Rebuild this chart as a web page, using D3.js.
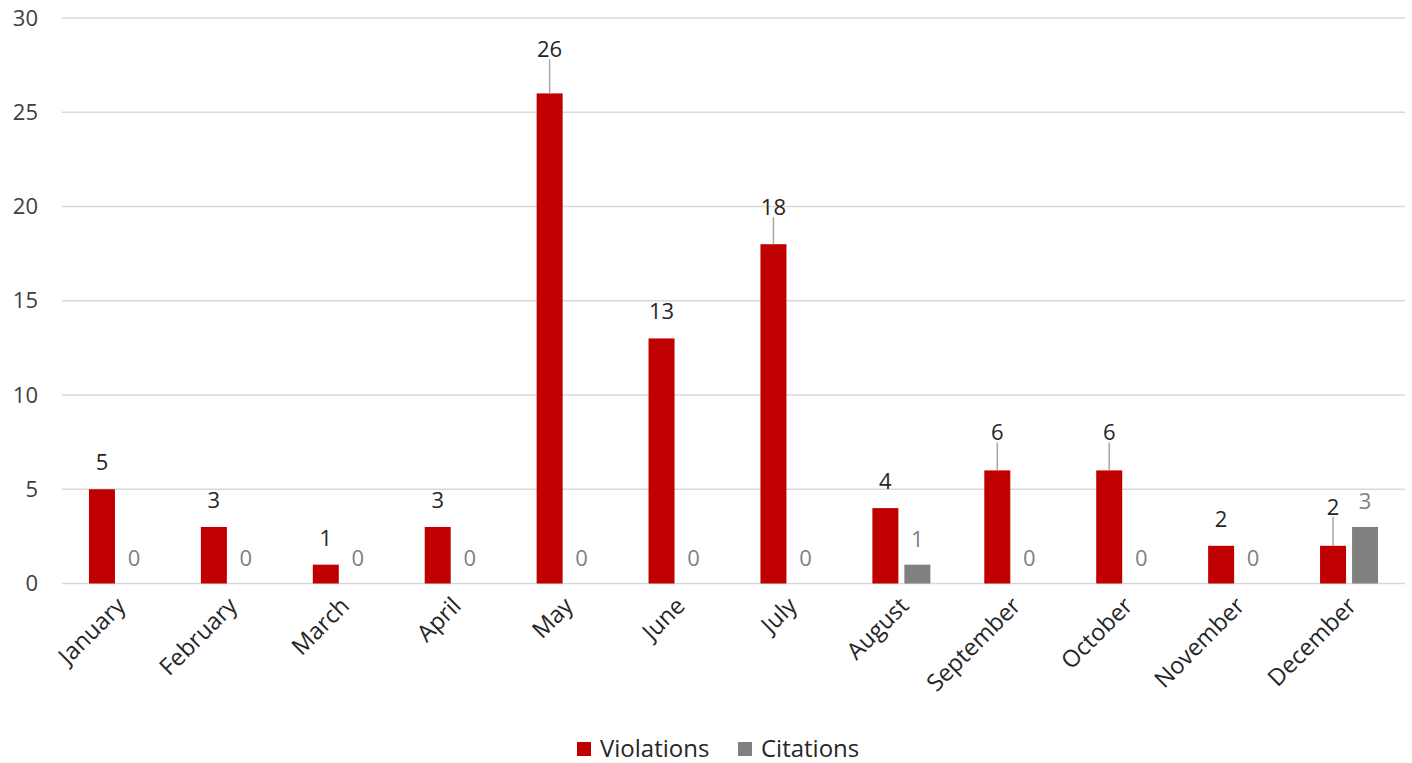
<!DOCTYPE html>
<html lang="en">
<head>
  <meta charset="UTF-8">
  <title>Violations and Citations by Month</title>
  <script src="https://d3js.org/d3.v7.min.js"></script>
  <style>
    body { margin: 0; background: #fff; }
    svg { display: block; font-family: "Open Sans", sans-serif; }
  </style>
</head>
<body>
  <svg width="1412" height="763"></svg>
  <script>
    // data
    const months = ["January", "February", "March", "April", "May", "June",
                    "July", "August", "September", "October", "November", "December"];
    const violations = [5, 3, 1, 3, 26, 13, 18, 4, 6, 6, 2, 2];
    const citations = [0, 0, 0, 0, 0, 0, 0, 1, 0, 0, 0, 3];
    const yTicks = [0, 5, 10, 15, 20, 25, 30];

    // labels that were dragged up in the original, with a leader line (px)
    const leaderLift = { May: 17, July: 10, September: 11, October: 11, December: 12 };

    const red = "#c00000", gray = "#808080";

    const svg = d3.select("svg");
    const plotLeft = 62, plotRight = 1405, plotTop = 18, plotBottom = 583.5;

    const x = d3.scaleBand().domain(months).range([plotLeft, plotRight]);
    const y = d3.scaleLinear().domain([0, 30]).range([plotBottom, plotTop]);

    const barW = 26, gap = 6;

    // gridlines
    svg.append("g").selectAll("line")
      .data(yTicks)
      .join("line")
      .attr("x1", plotLeft).attr("x2", plotRight)
      .attr("y1", d => y(d)).attr("y2", d => y(d))
      .attr("stroke", "#d9d9d9")
      .attr("stroke-width", 1.5);

    // y axis labels
    const yAxis = d3.axisLeft(y).tickValues(yTicks).tickSize(0).tickPadding(0);
    svg.append("g")
      .attr("transform", "translate(38,0)")
      .call(yAxis)
      .call(g => g.select(".domain").remove())
      .call(g => g.selectAll("text")
        .attr("font-size", 22)
        .attr("font-family", "Open Sans, sans-serif")
        .attr("fill", "#404040"));

    const center = m => x(m) + x.bandwidth() / 2;

    const rows = months.map((m, i) => ({ m, v: violations[i], c: citations[i] }));

    // violation bars
    svg.append("g").selectAll("rect")
      .data(rows)
      .join("rect")
      .attr("x", d => center(d.m) - gap / 2 - barW)
      .attr("y", d => y(d.v))
      .attr("width", barW)
      .attr("height", d => y(0) - y(d.v))
      .attr("fill", red);

    // citation bars
    svg.append("g").selectAll("rect")
      .data(rows)
      .join("rect")
      .attr("x", d => center(d.m) + gap / 2)
      .attr("y", d => y(d.c))
      .attr("width", barW)
      .attr("height", d => y(0) - y(d.c))
      .attr("fill", gray);

    // leader lines
    svg.append("g").selectAll("line")
      .data(rows.filter(d => leaderLift[d.m]))
      .join("line")
      .attr("x1", d => center(d.m) - gap / 2 - barW / 2)
      .attr("x2", d => center(d.m) - gap / 2 - barW / 2)
      .attr("y1", d => y(d.v))
      .attr("y2", d => y(d.v) - 19 - leaderLift[d.m] + 2)
      .attr("stroke", "#a6a6a6")
      .attr("stroke-width", 1.5);

    // violation labels
    svg.append("g").selectAll("text")
      .data(rows)
      .join("text")
      .attr("x", d => center(d.m) - gap / 2 - barW / 2)
      .attr("y", d => y(d.v) - 19 - (leaderLift[d.m] || 0))
      .attr("text-anchor", "middle")
      .attr("font-size", 22)
      .attr("fill", "#262626")
      .text(d => d.v);

    // citation labels
    svg.append("g").selectAll("text")
      .data(rows)
      .join("text")
      .attr("x", d => center(d.m) + gap / 2 + barW / 2)
      .attr("y", d => y(d.c) - 18)
      .attr("text-anchor", "middle")
      .attr("font-size", 22)
      .attr("fill", "#7f7f7f")
      .text(d => d.c);

    // month labels, rotated
    svg.append("g").selectAll("text")
      .data(months)
      .join("text")
      .attr("transform", m => `translate(${center(m) + 3},${plotBottom + 18}) rotate(-45)`)
      .attr("text-anchor", "end")
      .attr("dy", "0.35em")
      .attr("font-size", 23.5)
      .attr("fill", "#262626")
      .text(m => m);

    // legend
    const legend = svg.append("g").attr("transform", "translate(577,742)");
    const items = [{ name: "Violations", color: red, x: 0 }, { name: "Citations", color: gray, x: 161 }];
    const li = legend.selectAll("g").data(items).join("g")
      .attr("transform", d => `translate(${d.x},0)`);
    li.append("rect").attr("width", 14).attr("height", 14).attr("fill", d => d.color);
    li.append("text")
      .attr("x", 23).attr("y", 15)
      .attr("font-size", 24)
      .attr("fill", "#262626")
      .text(d => d.name);
  </script>
</body>
</html>
